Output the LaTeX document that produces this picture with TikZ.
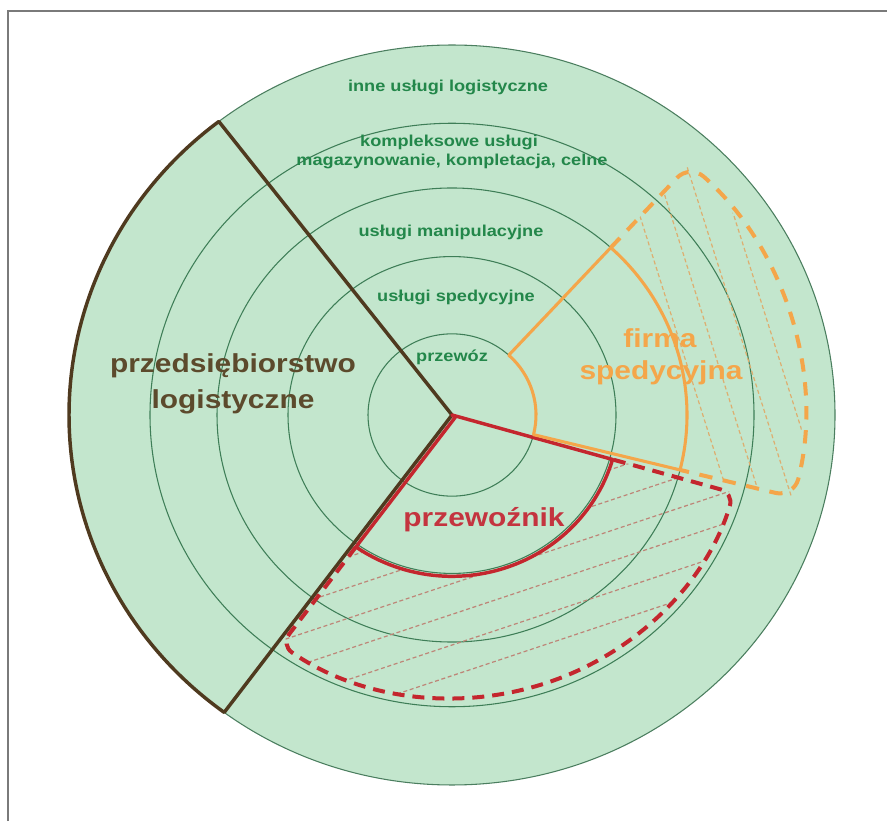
\documentclass[tikz,border=0pt]{standalone}
\usepackage{fontspec}
\newfontfamily\labfont[FakeStretch=1.15]{Liberation Sans}
\definecolor{disc}{HTML}{C3E6CD}
\definecolor{ringc}{HTML}{3E7E57}
\definecolor{txtgreen}{HTML}{23874A}
\definecolor{browntxt}{HTML}{5C4A2C}
\definecolor{brownln}{HTML}{4F3A1F}
\definecolor{redln}{HTML}{C4262E}
\definecolor{redtxt}{HTML}{C4343F}
\definecolor{orangeln}{HTML}{F4A64A}
\definecolor{redhatchc}{HTML}{BE8577}
\definecolor{orhatchc}{HTML}{DDAE70}
\definecolor{framec}{HTML}{7A7A7A}
\begin{document}
\begin{tikzpicture}[x=0.75pt,y=0.75pt,
  ringline/.style={draw=ringc, line width=0.8pt},
  outerline/.style={draw=ringc!80!gray, line width=0.8pt},
  brownline/.style={draw=brownln, line width=2.6pt, line join=round},
  redline/.style={draw=redln, line width=2.6pt, line join=round},
  orangeline/.style={draw=orangeln, line width=2.3pt, line join=round},
  reddash/.style={draw=redln, line width=3pt, dash pattern=on 9pt off 6pt},
  orangedash/.style={draw=orangeln, line width=3pt, dash pattern=on 10pt off 8pt},
  redhatch/.style={draw=redhatchc, line width=0.9pt, dash pattern=on 3pt off 2pt},
  orhatch/.style={draw=orhatchc, line width=0.9pt, dash pattern=on 3pt off 2pt},
  small/.style={font=\labfont\bfseries\fontsize{11.85}{14}\selectfont, text=txtgreen, inner sep=0pt},
  big/.style={font=\labfont\bfseries\fontsize{19.5}{22}\selectfont, inner sep=0pt},
  framel/.style={draw=framec, line width=1.5pt}]
\useasboundingbox (0,0) rectangle (887,821);
\draw[framel] (8,0) -- (8,809.5) -- (887,809.5);
\begin{scope}[shift={(452,406)}, yscale=0.966]
  \fill[disc] (0,0) circle (383);
  \foreach \r in {84,164,235,302} \draw[ringline] (0,0) circle (\r);
  \draw[outerline] (0,0) circle (383);
  % red hatch
  \begin{scope}
    \clip (234.87:167) -- (234.29:293) arc[start angle=234.29, end angle=344, radius=293] -- (344:167) arc[start angle=344, end angle=234.87, radius=167] -- cycle;
    \foreach \c in {-105,-135,-165,-195,-225,-255}
      \draw[redhatch] ({-0.326*\c-0.946*400},{0.946*\c-0.326*400}) -- ({-0.326*\c+0.946*400},{0.946*\c+0.326*400});
  \end{scope}
  % orange hatch
  \begin{scope}
    \clip (47.5:235) -- (47.5:350) arc[start angle=47.5, end angle=-14, radius=350] -- (-14:235) arc[start angle=-14, end angle=47.5, radius=235] -- cycle;
    \foreach \c in {240,270,300,330}
      \draw[orhatch] ({0.956*\c-0.292*500},{0.292*\c+0.956*500}) -- ({0.956*\c+0.292*500},{0.292*\c-0.956*500});
  \end{scope}
  % brown sector
  \draw[brownline] (0,0) -- (127.5:383) arc[start angle=127.5, end angle=233.5, radius=383] -- cycle;
  % red
  \draw[reddash, rounded corners=10pt] (234.87:167) -- (234.29:293) arc[start angle=234.29, end angle=344, radius=293] -- (344:167);
  \draw[redline] (3.22,-2.38) -- (234.87:167) arc[start angle=234.87, end angle=344, radius=167] -- (0,0) -- cycle;
  % orange
  \draw[orangedash, rounded corners=14pt] (47.5:235) -- (47.5:352) arc[start angle=47.5, end angle=-14, radius=352] -- (-14:235);
  \draw[orangeline] (47.5:84) -- (47.5:235) arc[start angle=47.5, end angle=-14, radius=235] -- (-14:84) arc[start angle=-14, end angle=47.5, radius=84] -- cycle;
\end{scope}
% labels
\node[small] (t1) at (448,734) {inne usługi logistyczne};
\node[small] (t2) at (449,679) {kompleksowe usługi};
\node[small] (t3) at (452,660) {magazynowanie, kompletacja, celne};
\node[small] (t4) at (451,589) {usługi manipulacyjne};
\node[small] (t5) at (456,524) {usługi spedycyjne};
\node[small] (t6) at (452,464) {przewóz};
\node[big, text=browntxt] (pl1) at (233,455) {przedsiębiorstwo};
\node[big, text=browntxt] (pl2) at (233,419) {logistyczne};
\node[big, text=redtxt] (pw) at (484,301) {przewoźnik};
\node[big, text=orangeln] (fs1) at (660,483) {firma};
\node[big, text=orangeln] (fs2) at (661,448) {spedycyjna};
\end{tikzpicture}
\end{document}
